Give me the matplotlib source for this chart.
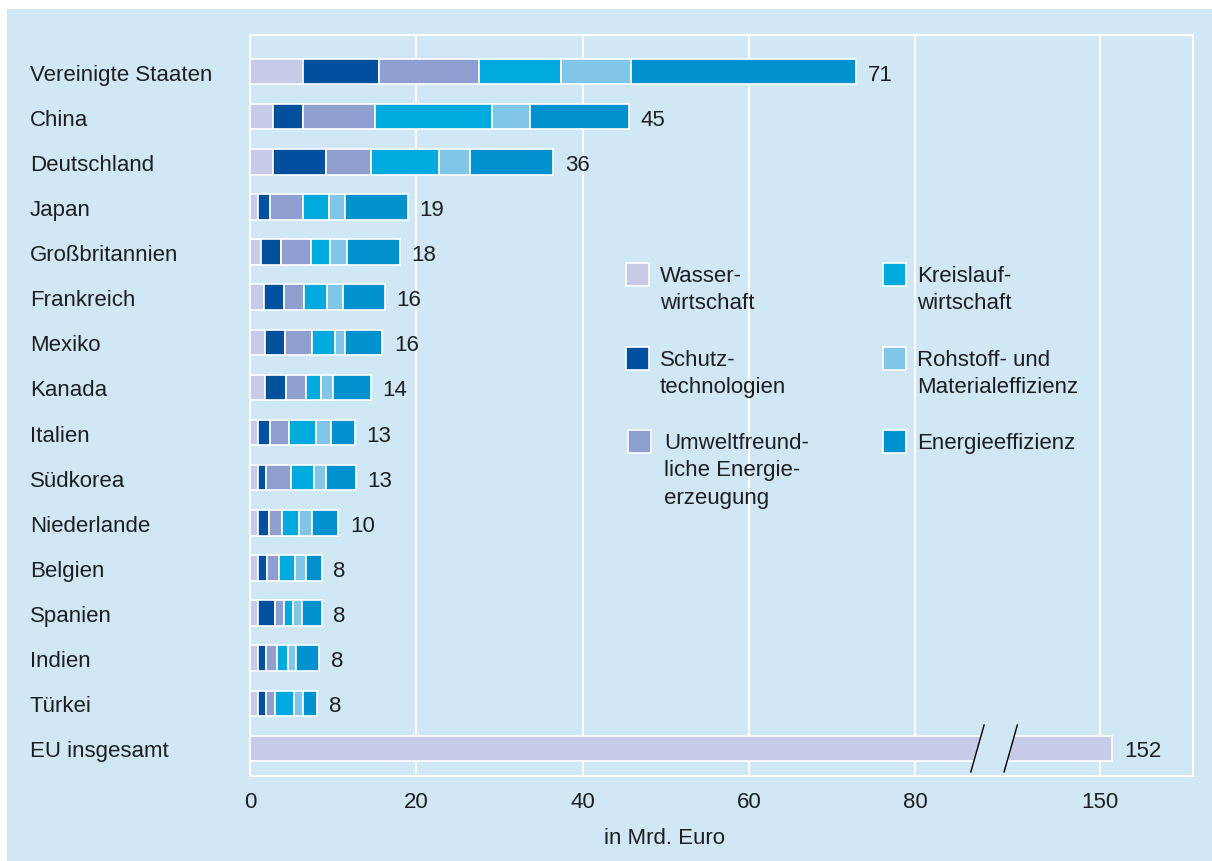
import matplotlib.pyplot as plt
from matplotlib.patches import Rectangle, Polygon

plt.rcParams['font.family'] = ['Liberation Sans', 'DejaVu Sans']

# Daten (Mrd. Euro), von oben nach unten
countries = ['Vereinigte Staaten', 'China', 'Deutschland', 'Japan', 'Großbritannien',
             'Frankreich', 'Mexiko', 'Kanada', 'Italien', 'Südkorea', 'Niederlande',
             'Belgien', 'Spanien', 'Indien', 'Türkei']
wasser = [6.4, 2.8, 2.8, 0.96, 1.37, 1.65, 1.85, 1.85, 0.96, 0.96, 0.96, 0.96, 0.96, 0.96, 0.96]
schutz = [9.1, 3.6, 6.3, 1.41, 2.36, 2.48, 2.4, 2.52, 1.44, 1.01, 1.37, 1.08, 2.09, 1.01, 1.01]
umwelt = [12.05, 8.65, 5.45, 4.05, 3.6, 2.36, 3.17, 2.41, 2.29, 2.96, 1.48, 1.41, 1.0, 1.32, 1.08]
kreislauf = [9.8, 14.1, 8.2, 3.12, 2.29, 2.73, 2.76, 1.75, 3.21, 2.76, 2.08, 1.96, 1.17, 1.33, 2.2]
rohstoff = [8.5, 4.5, 3.7, 1.84, 2.04, 1.92, 1.2, 1.41, 1.84, 1.44, 1.53, 1.32, 0.99, 0.96, 1.17]
energie = [27.1, 11.95, 10.0, 7.61, 6.37, 5.05, 4.53, 4.56, 2.88, 3.57, 3.2, 1.89, 2.41, 2.71, 1.63]
totals = [71, 45, 36, 19, 18, 16, 16, 14, 13, 13, 10, 8, 8, 8, 8]
eu_label = 'EU insgesamt'
eu_total = 152

legend_labels = ['Wasser-\nwirtschaft', 'Schutz-\ntechnologien',
                 'Umweltfreund-\nliche Energie-\nerzeugung',
                 'Kreislauf-\nwirtschaft', 'Rohstoff- und\nMaterialeffizienz',
                 'Energieeffizienz']
tick_values = [0, 20, 40, 60, 80, 150]

colors = ['#c8cbe8', '#00509e', '#8fa0d0', '#00aadf', '#80c6e8', '#0091cf']
bg = '#d0e7f5'
txt = '#1e1e1e'
FS = 16


def disp(v):
    # Achsenbruch: Werte jenseits von 100 werden hinter dem Bruch gestaucht
    return v if v <= 100 else 102.25 + (v - 150) * 0.7


W, H = 1212, 862
fig = plt.figure(figsize=(W / 100, H / 100), dpi=100, facecolor='white')
fig.patches.append(Rectangle((7 / W, 0), 1, 1 - 10 / H, transform=fig.transFigure,
                             facecolor=bg, edgecolor='none', zorder=-5))

ax = fig.add_axes([250 / W, 1 - 777 / H, (1193 - 250) / W, (777 - 36) / H])
ax.set_facecolor(bg)
ax.set_zorder(1)

n = len(countries)
ypos = list(range(n))
bar_h = 0.565
left = [0] * n
for series, col in zip([wasser, schutz, umwelt, kreislauf, rohstoff, energie], colors):
    ax.barh(ypos, series, left=left, height=bar_h, color=col,
            edgecolor='white', linewidth=1.2, zorder=3)
    left = [a + b for a, b in zip(left, series)]

for y, end, t in zip(ypos, left, totals):
    ax.text(end + 1.4, y, str(t), va='center_baseline', ha='left', fontsize=FS, color=txt)

# EU Balken mit Achsenbruch
eu_y = n
eu_end = disp(eu_total)
ax.barh(eu_y, eu_end, height=bar_h, color=colors[0], edgecolor='white',
        linewidth=1.2, zorder=3)
ax.text(eu_end + 1.5, eu_y, str(eu_total), va='center_baseline', ha='left',
        fontsize=FS, color=txt)

c1, c2 = 87.5, 91.5
slope = 0.8 / 0.52
hh = 0.31
gap = Polygon([(c1 + slope * hh, eu_y - hh), (c2 + slope * hh, eu_y - hh),
               (c2 - slope * hh, eu_y + hh), (c1 - slope * hh, eu_y + hh)],
              closed=True, facecolor=bg, edgecolor='none', zorder=4)
ax.add_patch(gap)
for c in (c1, c2):
    ax.plot([c - 0.8, c + 0.8], [eu_y + 0.52, eu_y - 0.52], color='black',
            linewidth=1.0, zorder=5, clip_on=False)

for v in tick_values[1:]:
    ax.axvline(disp(v), color='white', linewidth=1.5, zorder=1)

ax.set_xlim(0, (1193 - 249.3) / 8.32)
ax.set_ylim(n + 0.61, -0.81)

ax.set_xticks([disp(v) for v in tick_values])
ax.set_xticklabels([str(v) for v in tick_values])
ax.set_yticks(ypos + [eu_y])
ax.set_yticklabels(countries + [eu_label], ha='left', va='center_baseline')
ax.tick_params(axis='x', length=0, pad=11, labelsize=FS, labelcolor=txt)
ax.tick_params(axis='y', length=0, pad=(250 - 30) * 0.72, labelsize=FS, labelcolor=txt)
for s in ax.spines.values():
    s.set_color('white')
    s.set_linewidth(1.5)

fig.text(665 / W, 1 - 839 / H, 'in Mrd. Euro', ha='center', va='center',
         fontsize=FS, color=txt)

# Legende
sq = 22.5
box_x = [626, 626, 628, 883, 883, 883]
box_y = [264, 348, 431, 264, 348, 431]
text_x = [660, 660, 664, 917, 917, 917]
for lab, col, bx, by, tx in zip(legend_labels, colors, box_x, box_y, text_x):
    fig.patches.append(Rectangle((bx / W, 1 - (by + sq) / H), sq / W, sq / H,
                                 transform=fig.transFigure, facecolor=col,
                                 edgecolor='white', linewidth=1.2, zorder=5))
    fig.text(tx / W, 1 - (by + 2) / H, lab, ha='left', va='top',
             fontsize=FS, color=txt, linespacing=1.4, zorder=6)

fig.savefig('out.png', dpi=100, facecolor='white')
